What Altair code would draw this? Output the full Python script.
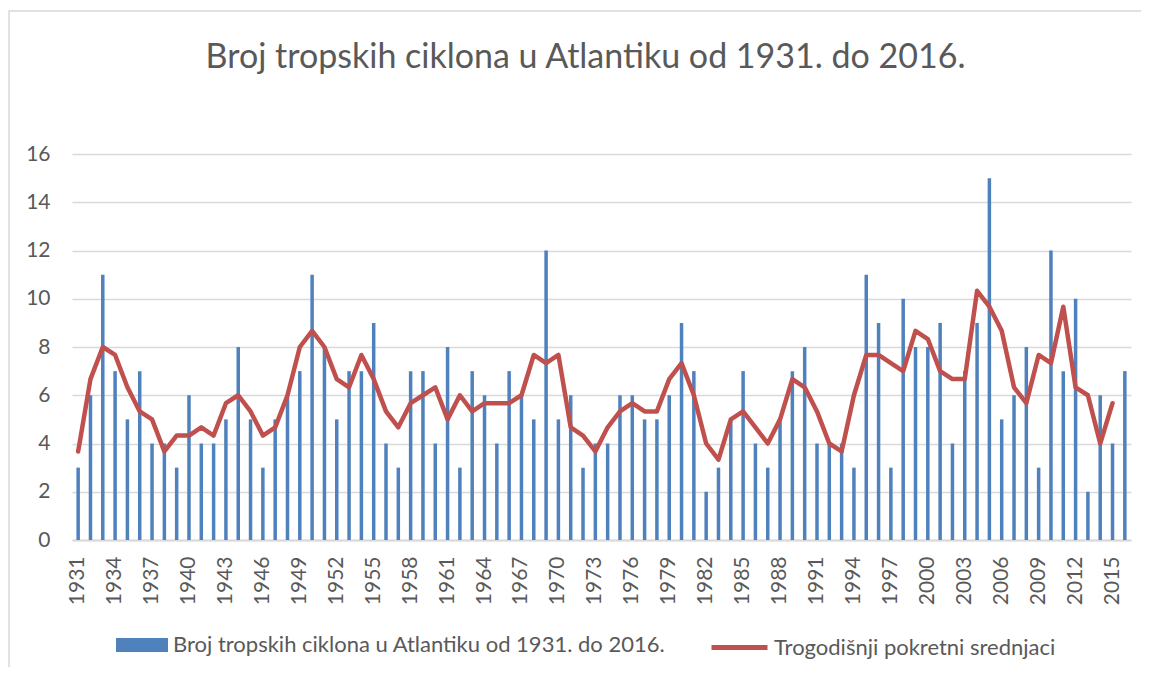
import altair as alt
import pandas as pd

# ---- data ----
years = list(range(1931, 2017))
cyclones = [3, 6, 11, 7, 5, 7, 4, 4, 3, 6,
            4, 4, 5, 8, 5, 3, 5, 6, 7, 11,
            8, 5, 7, 7, 9, 4, 3, 7, 7, 4,
            8, 3, 7, 6, 4, 7, 6, 5, 12, 5,
            6, 3, 4, 4, 6, 6, 5, 5, 6, 9,
            7, 2, 3, 5, 7, 4, 3, 5, 7, 8,
            4, 4, 4, 3, 11, 9, 3, 10, 8, 8,
            9, 4, 7, 9, 15, 5, 6, 8, 3, 12,
            7, 10, 2, 6, 4, 7]

avg_years = list(range(1931, 2016))
moving_avg = [3.67, 6.67, 8.00, 7.67, 6.33, 5.33, 5.00, 3.67, 4.33, 4.33,
              4.67, 4.33, 5.67, 6.00, 5.33, 4.33, 4.67, 6.00, 8.00, 8.67,
              8.00, 6.67, 6.33, 7.67, 6.67, 5.33, 4.67, 5.67, 6.00, 6.33,
              5.00, 6.00, 5.33, 5.67, 5.67, 5.67, 6.00, 7.67, 7.33, 7.67,
              4.67, 4.33, 3.67, 4.67, 5.33, 5.67, 5.33, 5.33, 6.67, 7.33,
              6.00, 4.00, 3.33, 5.00, 5.33, 4.67, 4.00, 5.00, 6.67, 6.33,
              5.33, 4.00, 3.67, 6.00, 7.67, 7.67, 7.33, 7.00, 8.67, 8.33,
              7.00, 6.67, 6.67, 10.33, 9.67, 8.67, 6.33, 5.67, 7.67, 7.33,
              9.67, 6.33, 6.00, 4.00, 5.67]

tick_years = list(range(1931, 2017, 3))
y_ticks = [0, 2, 4, 6, 8, 10, 12, 14, 16]

title_text = "Broj tropskih ciklona u Atlantiku od 1931. do 2016."
bar_name = "Broj tropskih ciklona u Atlantiku od 1931. do 2016."
line_name = "Trogodišnji pokretni srednjaci"

bars_df = pd.DataFrame({"year": years, "value": cyclones, "series": bar_name})
line_df = pd.DataFrame({"year": avg_years, "value": moving_avg, "series": line_name})

FONT = "Lato"
TXT = "#595959"
GRID = "#d9d9d9"

x_enc = alt.X(
    "year:O",
    scale=alt.Scale(domain=years, paddingInner=0, paddingOuter=0),
    axis=alt.Axis(
        title=None, values=tick_years, labelAngle=270, labelAlign="right",
        labelBaseline="middle", ticks=False, labelPadding=16,
        domainColor=GRID, domainWidth=2, labelFont=FONT, labelFontSize=21,
        labelColor=TXT, grid=False,
    ),
)
y_enc = alt.Y(
    "value:Q",
    scale=alt.Scale(domain=[0, 16], nice=False),
    axis=alt.Axis(
        title=None, values=y_ticks, ticks=False, domain=False,
        gridColor=GRID, gridWidth=1.5, labelPadding=22,
        labelFont=FONT, labelFontSize=21, labelColor=TXT,
    ),
)

frame = alt.Chart(pd.DataFrame({"k": [0]})).mark_rect(
    fill=None, stroke=GRID, strokeWidth=1.5
).encode(
    x=alt.value(-63), x2=alt.value(1100), y=alt.value(-143), y2=alt.value(600)
)

bars = alt.Chart(bars_df).mark_bar(size=3.5).encode(
    x=x_enc,
    y=y_enc,
    color=alt.Color(
        "series:N",
        scale=alt.Scale(domain=[bar_name], range=["#4F81BD"]),
        legend=alt.Legend(
            title=None, orient="none", legendX=44, legendY=465,
            symbolType="M-1,-0.27H1V0.27H-1Z", symbolSize=2704,
            symbolStrokeWidth=0, labelFont=FONT, labelFontSize=22,
            labelColor=TXT, labelOffset=5, labelLimit=900, padding=0,
        ),
    ),
)

line = alt.Chart(line_df).mark_line(
    strokeWidth=4.5, strokeJoin="round", strokeCap="round"
).encode(
    x=alt.X("year:O"),
    y=alt.Y("value:Q"),
    color=alt.Color(
        "series:N",
        scale=alt.Scale(domain=[line_name], range=["#C0504D"]),
        legend=alt.Legend(
            title=None, orient="none", legendX=637, legendY=463,
            symbolType="stroke", symbolSize=3136, symbolStrokeWidth=5,
            labelFont=FONT, labelFontSize=22, labelColor=TXT,
            labelOffset=4, labelLimit=900, padding=0,
        ),
    ),
)

chart = alt.layer(frame, bars, line).resolve_scale(color="independent").resolve_legend(
    color="independent"
).properties(
    width=1059,
    height=386,
    padding={"left": 64, "top": 146, "right": 10, "bottom": 127},
    autosize=alt.AutoSizeParams(type="none"),
    title=alt.TitleParams(
        title_text, font=FONT, fontSize=34, fontWeight="normal", color=TXT,
        anchor="middle", frame="group", offset=-92, dx=-16, baseline="alphabetic",
    ),
).configure_view(stroke=None)

chart.save("out.html", embed_options={"renderer": "svg", "actions": False})
